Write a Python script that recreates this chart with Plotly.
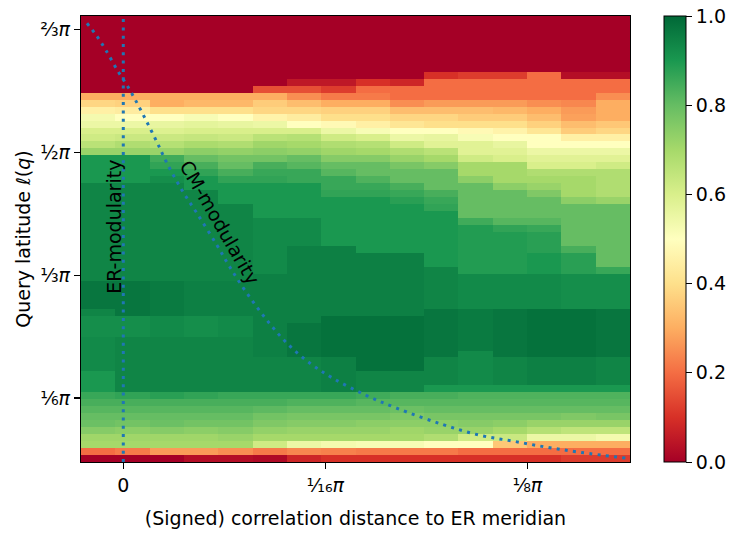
import numpy as np
import plotly.graph_objects as go

PI = np.pi

# ---- axis extents (radians) ----
x_min, x_max = -0.0411, 0.4925
y_min, y_max = 0.2506, 2.1524

# ---- heatmap values: 16 columns (left->right), each 64 rows (top->bottom) ----
col00 = [0.0]*11 + [0.3, 0.38, 0.45, 0.53, 0.55, 0.6, 0.62, 0.66, 0.72] + [0.9]*4 + [0.94]*14 + [0.97]*4 + [0.94] + [0.92]*3 + [0.93]*5 + [0.9]*3 + [0.86, 0.84, 0.82, 0.8, 0.79, 0.75, 0.71, 0.7, 0.2, 0.0]
col01 = [0.0]*11 + [0.3, 0.37, 0.44, 0.5, 0.55, 0.6, 0.63, 0.68, 0.72] + [0.9]*4 + [0.94]*14 + [0.97]*5 + [0.92]*3 + [0.94]*8 + [0.87, 0.84, 0.82, 0.8, 0.78, 0.74, 0.71, 0.7, 0.22, 0.0]
col02 = [0.0]*11 + [0.3, 0.3, 0.4, 0.5, 0.56, 0.59, 0.63, 0.67, 0.72] + [0.85, 0.87, 0.9, 0.92] + [0.94]*14 + [0.96]*5 + [0.93]*3 + [0.94]*8 + [0.88, 0.84, 0.82, 0.8, 0.79, 0.75, 0.71, 0.7, 0.27, 0.0]
col03 = [0.0]*11 + [0.3, 0.32, 0.4, 0.52, 0.57, 0.6, 0.64, 0.69, 0.74] + [0.8, 0.84, 0.87, 0.9, 0.9] + [0.94]*13 + [0.95]*5 + [0.92]*3 + [0.94]*8 + [0.87, 0.84, 0.82, 0.8, 0.78, 0.74, 0.71, 0.7, 0.27, 0.03]
col04 = [0.0]*11 + [0.3, 0.32, 0.4, 0.5, 0.56, 0.6, 0.63, 0.68, 0.73] + [0.78, 0.8, 0.84, 0.87] + [0.9]*3 + [0.94]*11 + [0.95]*5 + [0.93]*3 + [0.94]*8 + [0.86, 0.84, 0.82, 0.8, 0.78, 0.75, 0.72, 0.7, 0.25, 0.03]
col05 = [0.0]*10 + [0.15, 0.3, 0.36, 0.38, 0.46, 0.55, 0.6, 0.66, 0.71, 0.74] + [0.78, 0.84, 0.86, 0.87] + [0.9]*5 + [0.93]*8 + [0.95]*12 + [0.94]*5 + [0.86, 0.84, 0.81, 0.78, 0.76, 0.73, 0.7, 0.62, 0.22, 0.02]
col06 = [0.0]*9 + [0.05, 0.15, 0.25, 0.33, 0.38, 0.44, 0.5, 0.6, 0.67, 0.7, 0.73] + [0.8, 0.82, 0.86, 0.86] + [0.9]*5 + [0.93]*4 + [0.95]*11 + [0.97]*5 + [0.94]*5 + [0.86, 0.83, 0.8, 0.77, 0.75, 0.72, 0.7, 0.55, 0.24, 0.08]
col07 = [0.0]*9 + [0.05, 0.12, 0.22, 0.3, 0.37, 0.4, 0.48, 0.55, 0.62, 0.68, 0.71] + [0.75, 0.8, 0.82, 0.86, 0.86, 0.87] + [0.9]*7 + [0.95]*10 + [0.98]*6 + [0.95]*5 + [0.86, 0.83, 0.8, 0.77, 0.75, 0.72, 0.7, 0.53, 0.23, 0.1]
col08 = [0.0]*9 + [0.1, 0.2, 0.22, 0.3, 0.37, 0.4, 0.45, 0.52, 0.6, 0.67, 0.7] + [0.75, 0.8, 0.8, 0.83, 0.86, 0.87] + [0.9]*8 + [0.95]*9 + [0.98]*8 + [0.94]*3 + [0.85, 0.82, 0.8, 0.77, 0.74, 0.72, 0.7, 0.52, 0.22, 0.1]
col09 = [0.0]*9 + [0.08, 0.2, 0.2, 0.25, 0.33, 0.38, 0.42, 0.5, 0.55, 0.62, 0.68] + [0.72, 0.77, 0.8, 0.8, 0.84, 0.86, 0.88] + [0.9]*7 + [0.95]*9 + [0.98]*8 + [0.94]*3 + [0.84, 0.82, 0.79, 0.76, 0.74, 0.71, 0.7, 0.52, 0.22, 0.1]
col10 = [0.0]*8 + [0.1, 0.2, 0.2, 0.2, 0.27, 0.33, 0.38, 0.4, 0.5, 0.56, 0.58, 0.66] + [0.7, 0.75, 0.8, 0.8, 0.8, 0.84, 0.86, 0.87] + [0.9]*8 + [0.94]*6 + [0.97]*7 + [0.94]*4 + [0.9, 0.84, 0.82, 0.8, 0.77, 0.74, 0.72, 0.68, 0.5, 0.22, 0.1]
col11 = [0.0]*8 + [0.12, 0.2, 0.2, 0.2, 0.27, 0.33, 0.36, 0.4, 0.48, 0.52, 0.58, 0.58, 0.62] + [0.7, 0.7, 0.74] + [0.8]*5 + [0.85] + [0.89]*7 + [0.93]*5 + [0.96]*6 + [0.93]*5 + [0.9, 0.83, 0.82, 0.8, 0.77, 0.75, 0.72, 0.62, 0.5, 0.2, 0.1]
col12 = [0.0]*8 + [0.12, 0.2, 0.2, 0.2, 0.27, 0.32, 0.36, 0.4, 0.46, 0.5, 0.56, 0.58, 0.6] + [0.7]*3 + [0.74] + [0.8]*4 + [0.82, 0.87] + [0.89]*6 + [0.93]*5 + [0.97]*7 + [0.94]*4 + [0.9, 0.83, 0.82, 0.8, 0.77, 0.74, 0.7, 0.63, 0.35, 0.2, 0.1]
col13 = [0.0]*8 + [0.2]*4 + [0.25, 0.3, 0.33, 0.37, 0.42, 0.5, 0.5, 0.55, 0.58, 0.6, 0.68, 0.7, 0.72, 0.76] + [0.8]*3 + [0.82, 0.86] + [0.88]*3 + [0.9]*3 + [0.93]*5 + [0.98]*7 + [0.95]*4 + [0.9, 0.83, 0.82, 0.8, 0.77, 0.72, 0.67, 0.55, 0.3, 0.2, 0.1]
col14 = [0.0]*8 + [0.03] + [0.2]*3 + [0.24, 0.27, 0.28, 0.33, 0.36, 0.45, 0.5, 0.55, 0.58, 0.6, 0.68] + [0.7]*3 + [0.74] + [0.8]*6 + [0.84] + [0.88]*3 + [0.92]*5 + [0.98]*7 + [0.95]*4 + [0.9, 0.83, 0.82, 0.8, 0.76, 0.72, 0.65, 0.55, 0.3, 0.2, 0.12]
col15 = [0.0]*8 + [0.03] + [0.2, 0.2, 0.25, 0.3, 0.3, 0.3, 0.35, 0.38, 0.45, 0.5, 0.55, 0.58, 0.62] + [0.68]*4 + [0.72] + [0.8]*9 + [0.86] + [0.92]*5 + [0.97]*7 + [0.94]*4 + [0.9, 0.83, 0.82, 0.8, 0.77, 0.72, 0.65, 0.53, 0.3, 0.2, 0.12]

columns = [col00, col01, col02, col03, col04, col05, col06, col07,
           col08, col09, col10, col11, col12, col13, col14, col15]
for c in columns:
    assert len(c) == 64, len(c)

# ---- CM-modularity curve (radians) ----
cm_x = [-0.0353, -0.0256, -0.0168, -0.0052, 0.0036, 0.0114, 0.0221, 0.0328, 0.0425,
        0.0571, 0.0716, 0.0911, 0.1037, 0.1202, 0.1397, 0.1591, 0.1815, 0.2038,
        0.2359, 0.2660, 0.3098, 0.3467, 0.3798, 0.4118, 0.4439, 0.4896]
cm_y = [2.1213, 2.0658, 2.0061, 1.9166, 1.8569, 1.7972, 1.7076, 1.6138, 1.5243,
        1.4092, 1.3111, 1.1746, 1.0808, 0.9700, 0.8549, 0.7568, 0.6715, 0.6076,
        0.5351, 0.4797, 0.4114, 0.3645, 0.3389, 0.3134, 0.2920, 0.2665]

# ---- ER-modularity meridian ----
er_x = [0.0, 0.0]
er_y = [y_min, y_max]

# ---- ticks ----
x_tickvals = [0, PI / 16, PI / 8]
x_ticktext = ["0", "¹⁄₁₆<i>π</i>", "⅛<i>π</i>"]
y_tickvals = [PI / 6, PI / 3, PI / 2, 2 * PI / 3]
y_ticktext = ["⅙<i>π</i>", "⅓<i>π</i>", "½<i>π</i>", "⅔<i>π</i>"]
cb_tickvals = [0.0, 0.2, 0.4, 0.6, 0.8, 1.0]
cb_ticktext = ["0.0", "0.2", "0.4", "0.6", "0.8", "1.0"]

z_top_down = np.array(columns).T
z = z_top_down[::-1]
x_edges = np.linspace(x_min, x_max, len(columns) + 1)
y_edges = np.linspace(y_min, y_max, z.shape[0] + 1)

FONT = "DejaVu Sans"
FS = 19
BLUE = "#1f77b4"

fig = go.Figure()
fig.add_trace(go.Heatmap(
    z=z, x=x_edges, y=y_edges, colorscale="RdYlGn", zmin=0, zmax=1,
    hoverinfo="skip",
    colorbar=dict(
        thickness=22, len=1, lenmode="fraction", x=1.0619, xanchor="left",
        y=0.5, yanchor="middle", xpad=0, ypad=0,
        outlinewidth=1, outlinecolor="black",
        ticks="outside", ticklen=6, tickwidth=1, tickcolor="black",
        tickvals=cb_tickvals, ticktext=cb_ticktext,
        tickfont=dict(family=FONT, size=FS, color="black"),
    ),
))
fig.add_trace(go.Scatter(
    x=er_x, y=er_y, mode="lines",
    line=dict(color=BLUE, width=3, dash="3px,5.3px"),
    hoverinfo="skip", showlegend=False,
))
fig.add_trace(go.Scatter(
    x=cm_x, y=cm_y, mode="lines",
    line=dict(color=BLUE, width=3, dash="3px,5.3px", shape="spline"),
    hoverinfo="skip", showlegend=False,
))

fig.add_annotation(x=-0.0085, y=1.2514, text="ER-modularity", textangle=-90,
                   showarrow=False, font=dict(family=FONT, size=FS, color="black"),
                   xanchor="center", yanchor="middle")
fig.add_annotation(x=0.0935, y=1.2727, text="CM-modularity", textangle=60,
                   showarrow=False, font=dict(family=FONT, size=FS, color="black"),
                   xanchor="center", yanchor="middle")

axis_common = dict(
    showgrid=False, zeroline=False, showline=True, mirror=True,
    linecolor="black", linewidth=1.2, ticks="outside", ticklen=6,
    tickwidth=1.2, tickcolor="black", automargin=False,
    tickfont=dict(family=FONT, size=FS, color="black"),
)
fig.update_xaxes(range=[x_min, x_max], tickvals=x_tickvals, ticktext=x_ticktext,
                 title=dict(text="(Signed) correlation distance to ER meridian",
                            font=dict(family=FONT, size=FS, color="black"), standoff=16),
                 **axis_common)
fig.update_yaxes(range=[y_min, y_max], tickvals=y_tickvals, ticktext=y_ticktext,
                 title=dict(text="Query latitude <i>ℓ</i>(<i>q</i>)",
                            font=dict(family=FONT, size=FS, color="black"), standoff=4),
                 **axis_common)

fig.update_layout(
    width=733, height=534,
    margin=dict(l=81, r=103, t=16, b=72, pad=0, autoexpand=False),
    paper_bgcolor="white", plot_bgcolor="white",
    font=dict(family=FONT, size=FS, color="black"),
    showlegend=False,
)

fig.write_html("out.html",
               config={"displayModeBar": False, "staticPlot": True},
               post_script="document.body.style.margin='0px';document.body.style.padding='0px';")
